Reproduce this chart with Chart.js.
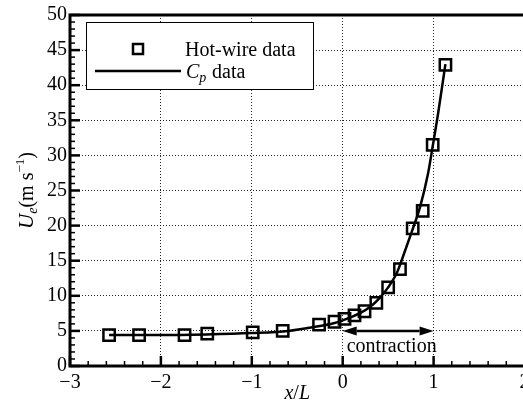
<!DOCTYPE html>
<html>
<head>
<meta charset="utf-8">
<script src="https://cdn.jsdelivr.net/npm/chart.js@4/dist/chart.umd.min.js"></script>
<style>
  html, body { margin: 0; padding: 0; background: #fff; overflow: hidden; }
  #wrap { width: 523px; height: 406px; overflow: hidden; }
</style>
</head>
<body>
<div id="wrap"><canvas id="chart" width="560" height="406"></canvas></div>
<script>
// hot-wire measurements of edge velocity along the contraction
const hotWireX = [-2.57, -2.24, -1.74, -1.49, -0.99, -0.66, -0.26, -0.09, 0.02, 0.13, 0.24, 0.37, 0.50, 0.63, 0.77, 0.88, 0.99, 1.13]
const hotWireU = [4.4, 4.4, 4.4, 4.6, 4.8, 5.0, 5.9, 6.3, 6.7, 7.2, 7.8, 9.0, 11.2, 13.8, 19.6, 22.1, 31.5, 42.9]

// velocity from wall pressure coefficient
const cpX = [-2.57, -2.0, -1.5, -1.0, -0.6, -0.3, -0.1, 0.0, 0.1, 0.2, 0.3, 0.4, 0.5, 0.6, 0.68, 0.77, 0.85, 0.94, 0.99, 1.05, 1.13]
const cpU = [4.4, 4.4, 4.5, 4.7, 5.0, 5.6, 6.1, 6.5, 7.0, 7.6, 8.4, 9.6, 11.2, 13.4, 16.2, 19.5, 22.6, 27.5, 31.3, 36.0, 43.0]

const xTicks = [-3, -2, -1, 0, 1, 2]
const yTicks = [0, 5, 10, 15, 20, 25, 30, 35, 40, 45, 50]
const contraction = [0, 1]   // x/L extent of the contraction arrow
const arrowU = 5

const SERIF = '"Liberation Serif", "Times New Roman", serif'
const fmt = v => v < 0 ? '\u2212' + Math.abs(v) : String(v)

// draw a run of text pieces (italic, sub/superscripts) centred on x
function richText(ctx, parts, x, y) {
  let w = 0
  parts.forEach(p => { ctx.font = p.font; p.w = ctx.measureText(p.t).width; w += p.w + (p.gap || 0) })
  let cx = x - w / 2
  parts.forEach(p => {
    ctx.font = p.font
    ctx.fillText(p.t, cx, y + (p.dy || 0))
    cx += p.w + (p.gap || 0)
  })
}

const axesFrame = {
  id: 'axesFrame',
  afterDatasetsDraw(chart) {
    const { ctx, chartArea: a, scales: { x, y } } = chart
    ctx.save()
    ctx.strokeStyle = '#000'

    // inward ticks, minor every 0.2 on x and every 1 on y
    for (let i = 0; i <= 25; i++) {
      const major = i % 5 === 0
      const px = x.getPixelForValue(-3 + i * 0.2)
      ctx.lineWidth = major ? 2.5 : 1.5
      ctx.beginPath()
      ctx.moveTo(px, a.bottom)
      ctx.lineTo(px, a.bottom - (major ? 10 : 5))
      ctx.stroke()
    }
    for (let i = 0; i <= 50; i++) {
      const major = i % 5 === 0
      const py = y.getPixelForValue(i)
      ctx.lineWidth = major ? 2.5 : 1.5
      ctx.beginPath()
      ctx.moveTo(a.left, py)
      ctx.lineTo(a.left + (major ? 10 : 5), py)
      ctx.stroke()
    }

    ctx.lineWidth = 3
    ctx.beginPath()
    ctx.moveTo(a.right, a.top)
    ctx.lineTo(a.left, a.top)
    ctx.lineTo(a.left, a.bottom)
    ctx.lineTo(a.right, a.bottom)
    ctx.lineTo(a.right, a.top)
    ctx.stroke()

    // contraction arrow
    const x0 = x.getPixelForValue(contraction[0])
    const x1 = x.getPixelForValue(contraction[1])
    const ay = y.getPixelForValue(arrowU)
    const hl = 14, hw = 4.5
    ctx.lineWidth = 2.5
    ctx.beginPath()
    ctx.moveTo(x0 + hl, ay)
    ctx.lineTo(x1 - hl, ay)
    ctx.stroke()
    ctx.fillStyle = '#000'
    ctx.beginPath()
    ctx.moveTo(x0, ay); ctx.lineTo(x0 + hl, ay - hw); ctx.lineTo(x0 + hl, ay + hw); ctx.closePath()
    ctx.moveTo(x1, ay); ctx.lineTo(x1 - hl, ay - hw); ctx.lineTo(x1 - hl, ay + hw); ctx.closePath()
    ctx.fill()
    ctx.font = '20px ' + SERIF
    ctx.textAlign = 'left'
    ctx.textBaseline = 'alphabetic'
    ctx.fillText('contraction', x0 + 4, ay + 21)

    // axis titles
    richText(ctx, [
      { t: 'x', font: 'italic 20px ' + SERIF },
      { t: '/', font: '20px ' + SERIF },
      { t: 'L', font: 'italic 20px ' + SERIF }
    ], (a.left + a.right) / 2, 399)

    ctx.save()
    ctx.translate(33, (a.top + a.bottom) / 2)
    ctx.rotate(-Math.PI / 2)
    richText(ctx, [
      { t: 'U', font: 'italic 21px ' + SERIF },
      { t: 'e', font: 'italic 14px ' + SERIF, dy: 4 },
      { t: '(m s', font: '20px ' + SERIF },
      { t: '\u22121', font: '13px ' + SERIF, dy: -9 },
      { t: ')', font: '20px ' + SERIF }
    ], 0, 0)
    ctx.restore()
    ctx.restore()
  },
  afterDraw(chart) {
    const { ctx } = chart
    const box = { left: 86, top: 22, right: 313, bottom: 89 }
    ctx.save()
    ctx.fillStyle = '#fff'
    ctx.fillRect(box.left, box.top, box.right - box.left, box.bottom - box.top)
    ctx.strokeStyle = '#000'
    ctx.lineWidth = 1
    ctx.strokeRect(box.left + 0.5, box.top + 0.5, box.right - box.left, box.bottom - box.top)

    ctx.lineWidth = 2.5
    ctx.strokeRect(133, 44, 10, 10)
    ctx.beginPath()
    ctx.moveTo(95, 71)
    ctx.lineTo(181, 71)
    ctx.stroke()

    ctx.fillStyle = '#000'
    ctx.textBaseline = 'alphabetic'
    ctx.textAlign = 'left'
    ctx.font = '20px ' + SERIF
    ctx.fillText(chart.data.datasets[0].label, 185, 56)
    ctx.font = 'italic 20px ' + SERIF
    ctx.fillText('C', 186, 78)
    const cx = 186 + ctx.measureText('C').width
    ctx.font = 'italic 14px ' + SERIF
    ctx.fillText('p', cx, 82)
    ctx.font = '20px ' + SERIF
    ctx.fillText('data', 212, 78)
    ctx.restore()
  }
}

new Chart(document.getElementById('chart'), {
  type: 'scatter',
  data: {
    datasets: [
      {
        label: 'Hot-wire data',
        data: hotWireX.map((v, i) => ({ x: v, y: hotWireU[i] })),
        pointStyle: 'rect',
        pointRadius: 8,
        pointBorderWidth: 2.5,
        borderColor: '#000',
        backgroundColor: 'rgba(0,0,0,0)',
        order: 0
      },
      {
        label: 'Cp data',
        data: cpX.map((v, i) => ({ x: v, y: cpU[i] })),
        showLine: true,
        pointRadius: 0,
        borderColor: '#000',
        borderWidth: 2.5,
        cubicInterpolationMode: 'monotone',
        order: 1
      }
    ]
  },
  options: {
    responsive: false,
    animation: false,
    devicePixelRatio: 1,
    layout: { padding: { top: 10, right: 35.5, left: 0, bottom: 0 } },
    plugins: { legend: { display: false }, tooltip: { enabled: false } },
    scales: {
      x: {
        type: 'linear', min: -3, max: 2,
        afterBuildTicks: s => { s.ticks = xTicks.map(v => ({ value: v })) },
        afterFit: s => { s.height = 40 },
        ticks: { callback: fmt, color: '#000', padding: 5, maxRotation: 0, font: { family: SERIF, size: 20 } },
        grid: { color: 'rgba(0,0,0,0.85)', lineWidth: 1, drawTicks: false },
        border: { display: false, dash: [1, 2] }
      },
      y: {
        type: 'linear', min: 0, max: 50,
        afterBuildTicks: s => { s.ticks = yTicks.map(v => ({ value: v })) },
        afterFit: s => { s.width = 70 },
        ticks: { callback: fmt, color: '#000', padding: 3, font: { family: SERIF, size: 20 } },
        grid: { color: 'rgba(0,0,0,0.85)', lineWidth: 1, drawTicks: false },
        border: { display: false, dash: [1, 2] }
      }
    }
  },
  plugins: [axesFrame]
})
</script>
</body>
</html>
